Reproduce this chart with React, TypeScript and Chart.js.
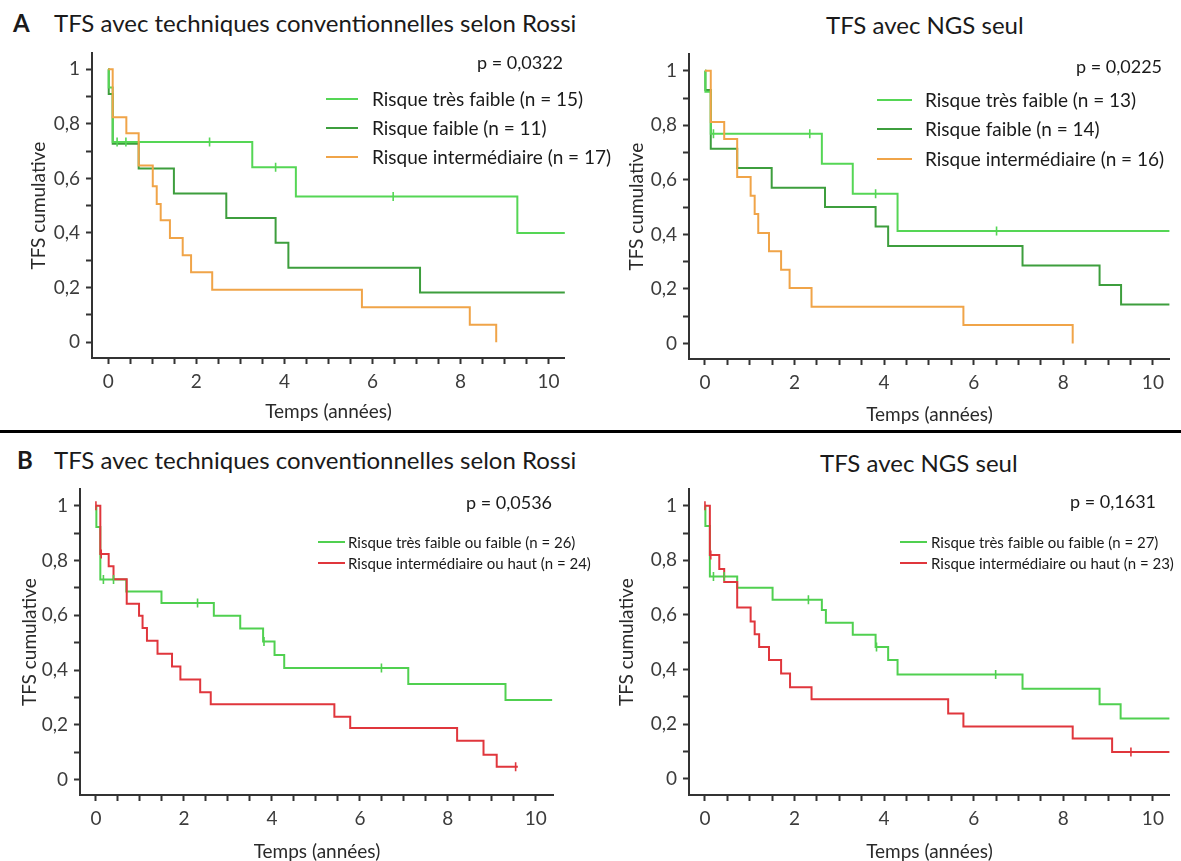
import React, { useEffect, useRef } from 'react';
import { Chart, registerables } from 'chart.js';
Chart.register(...registerables);

const FONT = 'Lato, "Open Sans", sans-serif';

// ---------- axes ----------
const X_MAJOR = [0, 2, 4, 6, 8, 10];
const X_MINOR = [0.5, 1, 1.5, 2.5, 3, 3.5, 4.5, 5, 5.5, 6.5, 7, 7.5, 8.5, 9, 9.5];
const Y_MAJOR = [0, 0.2, 0.4, 0.6, 0.8, 1];
const Y_MAJOR_LABELS = ['0', '0,2', '0,4', '0,6', '0,8', '1'];
const Y_MINOR = [0.1, 0.3, 0.5, 0.7, 0.9];
const X_TITLE = 'Temps (années)';
const Y_TITLE = 'TFS cumulative';

// ---------- colours ----------
const C_LIGHT = '#55d655';
const C_DARK = '#3d9e3d';
const C_ORANGE = '#f0a448';
const C_RED = '#e0363c';
const C_GREEN = '#50d050';

// ---------- A : Rossi (3 groupes) ----------
const A1_TF_T = [0.01, 0.1, 3.27, 4.26, 9.29];
const A1_TF_S = [0.933, 0.733, 0.641, 0.534, 0.4];
const A1_TF_CENS = [0.2, 0.4, 2.3, 3.8, 6.47];
const A1_TF_END = 10.37;
const A1_F_T = [0.01, 0.1, 0.69, 1.49, 2.68, 3.8, 4.09, 7.08];
const A1_F_S = [0.909, 0.727, 0.636, 0.545, 0.455, 0.364, 0.273, 0.182];
const A1_F_CENS: number[] = [];
const A1_F_END = 10.37;
const A1_I_T = [0.1, 0.41, 0.69, 1.01, 1.1, 1.19, 1.4, 1.69, 1.88, 2.36, 5.76, 8.21, 8.81];
const A1_I_S = [0.824, 0.765, 0.647, 0.571, 0.506, 0.447, 0.382, 0.318, 0.256, 0.192, 0.128, 0.064, 0];
const A1_I_CENS: number[] = [];
const A1_I_END = 8.81;

// ---------- A : NGS (3 groupes) ----------
const A2_TF_T = [0.01, 0.13, 2.61, 3.3, 4.3];
const A2_TF_S = [0.923, 0.769, 0.659, 0.549, 0.412];
const A2_TF_CENS = [0.19, 2.34, 3.81, 6.51];
const A2_TF_END = 10.37;
const A2_F_T = [0.01, 0.13, 0.72, 1.49, 2.68, 3.81, 4.09, 7.09, 8.81, 9.29];
const A2_F_S = [0.929, 0.714, 0.643, 0.571, 0.5, 0.429, 0.357, 0.286, 0.214, 0.143];
const A2_F_CENS: number[] = [];
const A2_F_END = 10.37;
const A2_I_T = [0.13, 0.43, 0.72, 1.02, 1.11, 1.19, 1.43, 1.7, 1.89, 2.38, 5.77, 8.21];
const A2_I_S = [0.8125, 0.75, 0.61, 0.542, 0.475, 0.405, 0.338, 0.27, 0.203, 0.135, 0.068, 0];
const A2_I_CENS: number[] = [];
const A2_I_END = 8.21;

// ---------- B : Rossi (2 groupes) ----------
const B1_G_T = [0.01, 0.1, 0.69, 1.49, 2.68, 3.28, 3.8, 4.06, 4.28, 7.1, 9.31];
const B1_G_S = [0.923, 0.731, 0.687, 0.645, 0.599, 0.552, 0.505, 0.455, 0.408, 0.349, 0.291];
const B1_G_CENS = [0.17, 0.4, 2.31, 3.82, 6.49];
const B1_G_END = 10.37;
const B1_R_T = [0.1, 0.29, 0.4, 0.7, 0.98, 1.06, 1.16, 1.4, 1.73, 1.92, 2.37, 2.61, 5.42, 5.78, 8.21, 8.81, 9.11];
const B1_R_S = [0.824, 0.779, 0.732, 0.642, 0.599, 0.554, 0.507, 0.46, 0.413, 0.366, 0.319, 0.275, 0.23, 0.189, 0.142, 0.091, 0.047];
const B1_R_CENS = [0, 0.12, 9.54];
const B1_R_END = 9.59;

// ---------- B : NGS (2 groupes) ----------
const B2_G_T = [0.01, 0.11, 0.72, 1.51, 2.61, 2.7, 3.3, 3.81, 4.09, 4.3, 7.09, 8.81, 9.28];
const B2_G_S = [0.926, 0.741, 0.7, 0.656, 0.618, 0.571, 0.527, 0.482, 0.435, 0.382, 0.329, 0.273, 0.22];
const B2_G_CENS = [0.19, 0.43, 2.31, 3.83, 6.49];
const B2_G_END = 10.37;
const B2_R_T = [0.11, 0.32, 0.43, 0.72, 1.02, 1.11, 1.21, 1.43, 1.7, 1.9, 2.38, 5.43, 5.77, 8.21, 9.09];
const B2_R_S = [0.82, 0.768, 0.721, 0.627, 0.576, 0.529, 0.482, 0.435, 0.385, 0.335, 0.291, 0.239, 0.191, 0.147, 0.098];
const B2_R_CENS = [0, 0.13, 9.51];
const B2_R_END = 10.37;

type Curve = { color: string; t: number[]; s: number[]; cens: number[]; end: number };

function stepValue(c: Curve, x: number) {
  let v = 1;
  for (let i = 0; i < c.t.length; i++) if (c.t[i] <= x) v = c.s[i];
  return v;
}

function buildDatasets(curves: Curve[]) {
  const ds: any[] = [];
  curves.forEach((c) => {
    ds.push({
      type: 'scatter',
      data: c.cens.map((t) => ({ x: t, y: stepValue(c, t) })),
      pointStyle: 'line',
      rotation: 90,
      pointRadius: 4.5,
      borderColor: c.color,
      backgroundColor: c.color,
      pointBorderWidth: 1.6,
      borderWidth: 1.6,
      showLine: false,
      order: 0,
    });
  });
  curves.forEach((c, k) => {
    const pts = [{ x: 0, y: 1 }, ...c.t.map((t, i) => ({ x: t, y: c.s[i] }))];
    if (c.end > c.t[c.t.length - 1]) pts.push({ x: c.end, y: c.s[c.s.length - 1] });
    ds.push({
      type: 'line',
      data: pts,
      borderColor: c.color,
      borderWidth: 2,
      stepped: 'before',
      pointRadius: 0,
      fill: false,
      tension: 0,
      order: 1 + k,
    });
  });
  return ds;
}

type Box = { l: number; t: number; w: number; h: number; yW: number; xH: number };

function KMChart({ curves, box, xr, yr }: { curves: Curve[]; box: Box; xr: number[]; yr: number[] }) {
  const ref = useRef<HTMLCanvasElement>(null);
  useEffect(() => {
    const axisColor = '#333';
    const tickFont = { family: FONT, size: 19 };
    const chart = new Chart(ref.current as HTMLCanvasElement, {
      type: 'line',
      data: { datasets: buildDatasets(curves) },
      options: {
        responsive: false,
        animation: false,
        devicePixelRatio: 1,
        layout: { padding: { top: 6, right: 4, left: 0, bottom: 0 } },
        plugins: { legend: { display: false }, tooltip: { enabled: false } },
        scales: {
          x: {
            type: 'linear',
            min: xr[0],
            max: xr[1],
            afterBuildTicks: (s: any) => {
              s.ticks = [...X_MAJOR, ...X_MINOR].sort((a, b) => a - b).map((v) => ({ value: v }));
            },
            afterFit: (s: any) => {
              s.height = box.xH;
            },
            ticks: {
              autoSkip: false,
              maxRotation: 0,
              padding: 6,
              color: '#3c3c3c',
              font: tickFont,
              callback: (v: any) => (X_MAJOR.some((m) => Math.abs(m - v) < 1e-6) ? String(v) : ''),
            },
            grid: { drawOnChartArea: false, drawTicks: true, tickLength: 6, tickColor: axisColor, tickWidth: 2 },
            border: { display: true, color: axisColor, width: 2 },
            title: { display: true, text: X_TITLE, color: '#2a2a2a', font: { family: FONT, size: 19 }, padding: 0 },
          },
          y: {
            type: 'linear',
            min: yr[0],
            max: yr[1],
            afterBuildTicks: (s: any) => {
              s.ticks = [...Y_MAJOR, ...Y_MINOR].sort((a, b) => a - b).map((v) => ({ value: v }));
            },
            afterFit: (s: any) => {
              s.width = box.yW;
            },
            ticks: {
              autoSkip: false,
              padding: 6,
              color: '#3c3c3c',
              font: tickFont,
              callback: (v: any) => {
                const i = Y_MAJOR.findIndex((m) => Math.abs(m - v) < 1e-6);
                return i >= 0 ? Y_MAJOR_LABELS[i] : '';
              },
            },
            grid: { drawOnChartArea: false, drawTicks: true, tickLength: 6, tickColor: axisColor, tickWidth: 2 },
            border: { display: true, color: axisColor, width: 2 },
            title: { display: true, text: Y_TITLE, color: '#2a2a2a', font: { family: FONT, size: 19 }, padding: 0 },
          },
        },
      } as any,
    });
    return () => chart.destroy();
  }, []);
  return (
    <canvas
      ref={ref}
      width={box.w}
      height={box.h}
      style={{ position: 'absolute', left: box.l, top: box.t, width: box.w, height: box.h }}
    />
  );
}

function Txt({ x, cy, size, bold, children }: { x: number; cy: number; size: number; bold?: boolean; children: any }) {
  return (
    <div
      style={{
        position: 'absolute',
        left: x,
        top: cy - size * 0.6,
        fontSize: size,
        lineHeight: `${size * 1.2}px`,
        fontWeight: bold ? 700 : 400,
        whiteSpace: 'nowrap',
        color: '#1a1a1a',
      }}
    >
      {children}
    </div>
  );
}

function Legend({ x1, x2, tx, rows, size }: { x1: number; x2: number; tx: number; size: number; rows: { cy: number; color: string; text: string }[] }) {
  return (
    <>
      {rows.map((r, i) => (
        <React.Fragment key={i}>
          <div style={{ position: 'absolute', left: x1, top: r.cy - 1, width: x2 - x1, height: 2, background: r.color }} />
          <Txt x={tx} cy={r.cy} size={size}>
            {r.text}
          </Txt>
        </React.Fragment>
      ))}
    </>
  );
}

export default function App() {
  const a1: Curve[] = [
    { color: C_ORANGE, t: A1_I_T, s: A1_I_S, cens: A1_I_CENS, end: A1_I_END },
    { color: C_LIGHT, t: A1_TF_T, s: A1_TF_S, cens: A1_TF_CENS, end: A1_TF_END },
    { color: C_DARK, t: A1_F_T, s: A1_F_S, cens: A1_F_CENS, end: A1_F_END },
  ];
  const a2: Curve[] = [
    { color: C_ORANGE, t: A2_I_T, s: A2_I_S, cens: A2_I_CENS, end: A2_I_END },
    { color: C_LIGHT, t: A2_TF_T, s: A2_TF_S, cens: A2_TF_CENS, end: A2_TF_END },
    { color: C_DARK, t: A2_F_T, s: A2_F_S, cens: A2_F_CENS, end: A2_F_END },
  ];
  const b1: Curve[] = [
    { color: C_RED, t: B1_R_T, s: B1_R_S, cens: B1_R_CENS, end: B1_R_END },
    { color: C_GREEN, t: B1_G_T, s: B1_G_S, cens: B1_G_CENS, end: B1_G_END },
  ];
  const b2: Curve[] = [
    { color: C_RED, t: B2_R_T, s: B2_R_S, cens: B2_R_CENS, end: B2_R_END },
    { color: C_GREEN, t: B2_G_T, s: B2_G_S, cens: B2_G_CENS, end: B2_G_END },
  ];

  return (
    <div
      style={{
        position: 'absolute',
        left: 0,
        top: 0,
        width: 1181,
        height: 861,
        overflow: 'hidden',
        background: '#fff',
        fontFamily: FONT,
      }}
    >
      {/* Row A */}
      <Txt x={13} cy={23} size={24} bold>A</Txt>
      <Txt x={54} cy={23} size={24}>TFS avec techniques conventionnelles selon Rossi</Txt>
      <Txt x={826} cy={25} size={24}>TFS avec NGS seul</Txt>
      <KMChart curves={a1} box={{ l: 27, t: 36, w: 544, h: 387, yW: 65, xH: 65 }} xr={[-0.37, 10.37]} yr={[-0.058, 1.058]} />
      <KMChart curves={a2} box={{ l: 625, t: 37, w: 551, h: 389, yW: 64, xH: 67 }} xr={[-0.356, 10.38]} yr={[-0.057, 1.06]} />
      <Txt x={477} cy={63} size={18}>p = 0,0322</Txt>
      <Legend
        x1={326}
        x2={358}
        tx={372}
        size={19}
        rows={[
          { cy: 99, color: C_LIGHT, text: 'Risque très faible (n = 15)' },
          { cy: 128, color: C_DARK, text: 'Risque faible (n = 11)' },
          { cy: 157, color: C_ORANGE, text: 'Risque intermédiaire (n = 17)' },
        ]}
      />
      <Txt x={1076} cy={67} size={18}>p = 0,0225</Txt>
      <Legend
        x1={877}
        x2={912}
        tx={925}
        size={19}
        rows={[
          { cy: 100, color: C_LIGHT, text: 'Risque très faible (n = 13)' },
          { cy: 129, color: C_DARK, text: 'Risque faible (n = 14)' },
          { cy: 159, color: C_ORANGE, text: 'Risque intermédiaire (n = 16)' },
        ]}
      />

      {/* separator */}
      <div style={{ position: 'absolute', left: 0, top: 430, width: 1181, height: 3, background: '#000' }} />

      {/* Row B */}
      <Txt x={17} cy={460} size={24} bold>B</Txt>
      <Txt x={54} cy={460} size={24}>TFS avec techniques conventionnelles selon Rossi</Txt>
      <Txt x={820} cy={463} size={24}>TFS avec NGS seul</Txt>
      <KMChart curves={b1} box={{ l: 18, t: 472, w: 542, h: 391, yW: 62, xH: 68 }} xr={[-0.362, 10.41]} yr={[-0.056, 1.06]} />
      <KMChart curves={b2} box={{ l: 615, t: 472, w: 561, h: 391, yW: 74, xH: 68 }} xr={[-0.356, 10.38]} yr={[-0.06, 1.06]} />
      <Txt x={466} cy={503} size={18}>p = 0,0536</Txt>
      <Legend
        x1={318}
        x2={345}
        tx={348}
        size={15}
        rows={[
          { cy: 542, color: C_GREEN, text: 'Risque très faible ou faible (n = 26)' },
          { cy: 563, color: C_RED, text: 'Risque intermédiaire ou haut (n = 24)' },
        ]}
      />
      <Txt x={1070} cy={502} size={18}>p = 0,1631</Txt>
      <Legend
        x1={900}
        x2={927}
        tx={931}
        size={15}
        rows={[
          { cy: 542, color: C_GREEN, text: 'Risque très faible ou faible (n = 27)' },
          { cy: 563, color: C_RED, text: 'Risque intermédiaire ou haut (n = 23)' },
        ]}
      />
    </div>
  );
}
